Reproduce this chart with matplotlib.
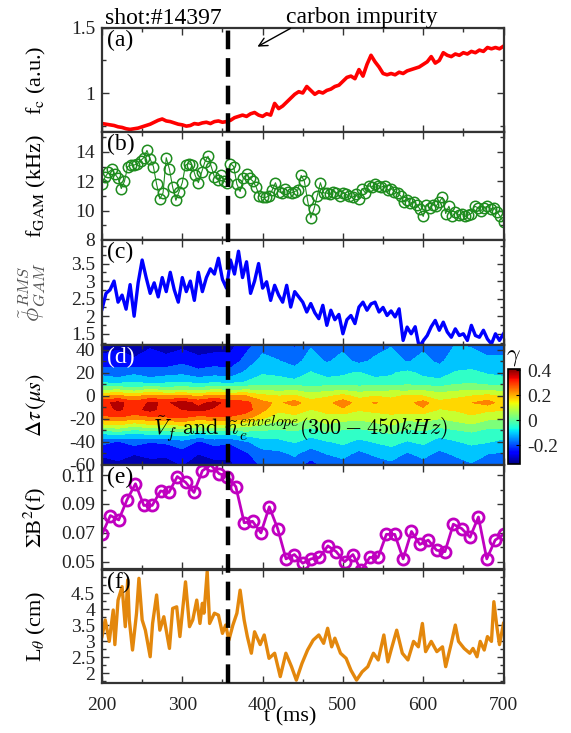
import numpy as np
import matplotlib
matplotlib.use('Agg')
import matplotlib.pyplot as plt
import matplotlib as mpl
from matplotlib.ticker import MultipleLocator, AutoMinorLocator, StrMethodFormatter
from matplotlib.lines import Line2D

plt.rcParams['font.family'] = ['Liberation Serif', 'DejaVu Serif']
plt.rcParams['mathtext.fontset'] = 'stix'
plt.rcParams['axes.unicode_minus'] = False

# ---- data ----
t_event = 357.5   # dashed line

# (a) carbon impurity f_c, 5 ms steps from 200 to 700
fc = [0.765, 0.76, 0.755, 0.75, 0.74, 0.735, 0.725, 0.72, 0.725, 0.73,
      0.74, 0.75, 0.76, 0.775, 0.79, 0.80, 0.785, 0.78, 0.77, 0.76,
      0.755, 0.745, 0.75, 0.765, 0.76, 0.77, 0.775, 0.765, 0.78, 0.785,
      0.775, 0.78, 0.79, 0.81, 0.82, 0.83, 0.82, 0.84, 0.85, 0.83,
      0.82, 0.84, 0.83, 0.92, 0.88, 0.90, 0.93, 0.96, 0.99, 1.01,
      1.00, 1.05, 1.02, 0.99, 1.01, 1.00, 1.02, 1.03, 1.05, 1.06,
      1.09, 1.12, 1.13, 1.11, 1.18, 1.13, 1.22, 1.29, 1.24, 1.20,
      1.15, 1.14, 1.15, 1.14, 1.16, 1.15, 1.17, 1.18, 1.19, 1.20,
      1.22, 1.24, 1.28, 1.23, 1.25, 1.31, 1.29, 1.28, 1.30, 1.29,
      1.31, 1.30, 1.32, 1.31, 1.33, 1.32, 1.35, 1.34, 1.35, 1.34,
      1.36]

# (b) f_GAM (kHz), 4 ms steps
fgam = [11.8, 12.3, 12.6, 12.8, 12.5, 12.2, 11.5, 12.0, 13.0, 13.1,
        13.1, 13.2, 13.4, 13.6, 14.1, 13.5, 13.0, 11.8, 10.8, 11.2,
        13.6, 12.8, 11.6, 10.7, 11.3, 11.9, 13.1, 13.2, 13.1, 12.4,
        11.9, 12.6, 13.3, 13.7, 13.0, 12.3, 12.1, 12.4, 12.0, 11.9,
        13.2, 13.0, 11.8, 11.3, 12.2, 12.5, 12.2, 12.0, 11.6, 11.0,
        10.9, 10.9, 11.0, 11.4, 11.9, 11.3, 11.2, 11.5, 11.3, 11.2,
        11.3, 11.4, 12.4, 12.0, 10.7, 9.5, 10.1, 11.0, 11.9, 11.2,
        11.2, 11.1, 11.3, 11.2, 11.0, 11.2, 11.1, 11.0, 10.9, 11.1,
        10.8, 11.5, 11.2, 11.7, 11.6, 11.8, 11.7, 11.6, 11.7, 11.4,
        11.5, 11.3, 11.2, 11.0, 10.6, 10.7, 10.5, 10.6, 10.4, 10.1,
        9.6, 10.4, 10.2, 10.4, 10.3, 10.6, 10.9, 9.8, 10.3, 9.6,
        9.9, 9.7, 9.8, 9.6, 9.7, 9.8, 10.3, 10.2, 10.0, 10.2,
        10.3, 10.1, 10.2, 9.9, 9.6, 9.2]

# (c) phi_GAM RMS, 5 ms steps
phi = [2.2, 2.65, 2.75, 3.0, 2.4, 2.6, 2.2, 2.9, 2.0, 2.95,
       3.6, 3.1, 2.65, 2.95, 2.55, 3.1, 2.7, 3.25, 2.75, 2.4,
       3.1, 2.7, 3.0, 2.45, 3.25, 2.7, 3.1, 3.35, 3.2, 3.65,
       3.05, 2.8, 3.6, 3.2, 3.85, 3.1, 3.55, 2.65, 3.0, 3.5,
       2.8, 2.98, 2.45, 2.88, 2.6, 2.4, 2.88, 2.26, 2.7, 2.55,
       2.4, 2.12, 2.36, 2.1, 1.93, 2.31, 1.74, 2.17, 1.9, 2.05,
       1.5, 1.9, 2.02, 1.79, 2.26, 2.4, 2.17, 2.35, 2.4, 2.12,
       2.25, 2.02, 2.15, 1.98, 2.21, 1.31, 1.69, 1.5, 1.7, 1.12,
       1.3, 1.45, 1.7, 1.88, 1.6, 1.83, 1.55, 1.4, 1.64, 1.45,
       1.5, 1.31, 1.74, 1.45, 1.4, 1.6, 1.35, 1.21, 1.5, 1.31,
       1.5]

# (d) correlation gamma(t, dtau): columns t = 200..700 step 20, rows dtau
t_map = np.arange(200, 701, 20)
tau_map = [-60, -50, -40, -32, -25, -18, -12, -6, 0, 6, 12, 20, 30, 44]
gamma = np.array([
    [-0.31, -0.30, -0.29, -0.31, -0.30, -0.28, -0.31, -0.30, -0.29, -0.25, -0.20,
     -0.22, -0.18, -0.24, -0.19, -0.17, -0.21, -0.18, -0.16, -0.20, -0.17, -0.22, -0.18, -0.15, -0.19, -0.20],
    [-0.27, -0.25, -0.28, -0.26, -0.27, -0.24, -0.28, -0.26, -0.27, -0.22, -0.17,
     -0.16, -0.13, -0.18, -0.14, -0.12, -0.16, -0.13, -0.11, -0.15, -0.12, -0.16, -0.13, -0.11, -0.14, -0.15],
    [-0.19, -0.22, -0.18, -0.21, -0.20, -0.17, -0.22, -0.19, -0.20, -0.15, -0.10,
     -0.09, -0.07, -0.10, -0.08, -0.06, -0.09, -0.07, -0.05, -0.08, -0.06, -0.10, -0.08, -0.06, -0.07, -0.09],
    [-0.06, -0.03, -0.07, -0.04, -0.05, -0.02, -0.06, -0.04, -0.05, -0.03, -0.03,
     -0.04, -0.02, -0.05, -0.01, -0.03, -0.04, -0.02, 0.00, -0.03, -0.02, -0.05, -0.03, -0.01, -0.04, -0.04],
    [0.12, 0.14, 0.10, 0.13, 0.12, 0.15, 0.11, 0.13, 0.12, 0.10, 0.06,
     0.04, 0.05, 0.02, 0.06, 0.04, 0.03, 0.05, 0.07, 0.03, 0.05, 0.02, 0.04, 0.06, 0.03, 0.03],
    [0.26, 0.28, 0.25, 0.27, 0.28, 0.29, 0.26, 0.27, 0.27, 0.24, 0.16,
     0.10, 0.12, 0.08, 0.11, 0.10, 0.09, 0.11, 0.12, 0.10, 0.09, 0.08, 0.10, 0.12, 0.09, 0.08],
    [0.31, 0.35, 0.32, 0.36, 0.31, 0.34, 0.36, 0.33, 0.32, 0.30, 0.22,
     0.15, 0.17, 0.13, 0.16, 0.19, 0.14, 0.15, 0.16, 0.17, 0.19, 0.13, 0.14, 0.18, 0.15, 0.14],
    [0.32, 0.36, 0.30, 0.35, 0.33, 0.37, 0.32, 0.36, 0.31, 0.29, 0.22,
     0.19, 0.23, 0.16, 0.18, 0.24, 0.17, 0.21, 0.16, 0.18, 0.23, 0.15, 0.17, 0.20, 0.23, 0.17],
    [0.19, 0.21, 0.18, 0.22, 0.20, 0.21, 0.19, 0.22, 0.20, 0.20, 0.15,
     0.13, 0.14, 0.10, 0.12, 0.15, 0.11, 0.13, 0.12, 0.14, 0.13, 0.10, 0.11, 0.13, 0.15, 0.12],
    [0.03, 0.04, 0.01, 0.05, 0.02, 0.03, 0.02, 0.04, 0.03, 0.04, 0.04,
     0.03, 0.04, 0.01, 0.03, 0.04, 0.02, 0.03, 0.04, 0.03, 0.04, 0.02, 0.04, 0.05, 0.04, 0.03],
    [-0.09, -0.10, -0.08, -0.11, -0.09, -0.08, -0.10, -0.09, -0.10, -0.07, -0.05,
     -0.05, -0.06, -0.03, -0.05, -0.06, -0.04, -0.05, -0.06, -0.03, -0.05, -0.06, -0.03, -0.02, -0.04, -0.05],
    [-0.17, -0.19, -0.16, -0.18, -0.17, -0.16, -0.19, -0.17, -0.18, -0.13, -0.08,
     -0.09, -0.11, -0.07, -0.10, -0.08, -0.07, -0.10, -0.08, -0.06, -0.09, -0.10, -0.07, -0.06, -0.08, -0.09],
    [-0.26, -0.24, -0.27, -0.25, -0.26, -0.23, -0.26, -0.25, -0.26, -0.18, -0.12,
     -0.14, -0.17, -0.11, -0.15, -0.12, -0.16, -0.13, -0.10, -0.15, -0.12, -0.16, -0.10, -0.11, -0.13, -0.12],
    [-0.31, -0.30, -0.32, -0.29, -0.31, -0.30, -0.32, -0.31, -0.30, -0.24, -0.17,
     -0.18, -0.22, -0.15, -0.20, -0.16, -0.21, -0.17, -0.15, -0.20, -0.16, -0.21, -0.14, -0.15, -0.17, -0.18],
])
g_min, g_max = -0.35, 0.41

# (e) sum B^2(f), evenly spaced
sb2 = [0.069, 0.082, 0.079, 0.093, 0.104, 0.089, 0.089, 0.099, 0.098, 0.109,
       0.105, 0.098, 0.113, 0.117, 0.111, 0.109, 0.102, 0.077, 0.078, 0.070,
       0.088, 0.073, 0.052, 0.055, 0.049, 0.052, 0.053, 0.061, 0.057, 0.050,
       0.055, 0.044, 0.053, 0.053, 0.069, 0.069, 0.052, 0.071, 0.062, 0.065,
       0.058, 0.057, 0.076, 0.073, 0.067, 0.081, 0.052, 0.065, 0.069]

# (f) L_theta (cm)
t_f = [200, 204, 209, 214, 216, 220, 225, 229, 232, 234, 238, 243, 246, 250, 254, 260,
       263, 268, 272, 277, 284, 288, 293, 297, 304, 309, 313, 318, 322, 325, 327, 331,
       334, 340, 345, 350, 354, 358, 363, 368, 372, 377, 381, 386, 390, 397, 402, 408,
       415, 422, 429, 436, 442, 449, 456, 463, 470, 476, 481, 486, 490, 497, 504, 510,
       517, 524, 531, 538, 544, 551, 556, 560, 567, 574, 581, 588, 594, 599, 603, 610,
       617, 624, 628, 635, 640, 644, 651, 658, 662, 667, 671, 676, 680, 685, 688, 692,
       695, 700]
lth = [3.15, 3.67, 3.0, 3.98, 2.9, 4.29, 4.71, 3.46, 4.92, 3.67, 2.73, 3.88, 4.97, 3.67, 3.35, 2.52,
       3.56, 4.45, 3.35, 3.77, 2.78, 4.03, 4.08, 3.15, 4.86, 3.46, 3.67, 4.29, 3.56, 4.19, 3.88, 5.18,
       3.56, 3.88, 3.82, 3.25, 3.51, 3.04, 3.51, 3.88, 4.6, 3.67, 3.15, 2.63, 3.3, 2.9, 3.2, 2.47,
       2.63, 1.9, 2.63, 2.21, 1.79, 2.31, 2.73, 3.04, 3.2, 2.94, 3.41, 2.83, 3.1, 2.63, 2.47, 2.1,
       1.79, 2.05, 2.21, 2.63, 2.42, 3.2, 2.36, 2.73, 3.35, 2.63, 2.42, 3.0, 2.83, 3.56, 2.68, 3.0,
       2.68, 2.83, 2.21, 2.94, 3.51, 3.0, 2.78, 2.63, 2.78, 2.52, 3.0, 2.73, 3.15, 3.0, 4.24, 3.41,
       2.9, 3.56]

# ---- figure ----
W, H = 571, 733
fig = plt.figure(figsize=(W / 100, H / 100), dpi=100)


def box(top, bottom):
    return [102 / W, 1 - bottom / H, 401.5 / W, (bottom - top) / H]


def style(ax, ylim, yticks, bottom=False):
    ax.set_xlim(200, 700)
    ax.set_ylim(*ylim)
    ax.set_yticks(yticks)
    ax.yaxis.set_major_formatter(StrMethodFormatter('{x:g}'))
    ax.xaxis.set_major_locator(MultipleLocator(100))
    ax.xaxis.set_minor_locator(MultipleLocator(50))
    ax.yaxis.set_minor_locator(AutoMinorLocator(2))
    ax.tick_params(which='both', direction='in', top=True, right=True,
                   labelsize=14, labelcolor='#222', color='#333', width=1.0)
    ax.tick_params(which='major', length=5)
    ax.tick_params(which='minor', length=3)
    ax.tick_params(axis='y', pad=5)
    ax.tick_params(axis='x', pad=10, labelbottom=bottom)
    for s in ax.spines.values():
        s.set_linewidth(1.6)
        s.set_color('#333')
    ax.yaxis.set_label_coords(-0.135, 0.5)


ax_a = fig.add_axes(box(28, 132))
ax_b = fig.add_axes(box(132, 240))
ax_c = fig.add_axes(box(240, 345))
ax_d = fig.add_axes(box(345, 465))
ax_e = fig.add_axes(box(465, 569))
ax_f = fig.add_axes(box(570, 683))

# (a)
t_a = np.linspace(200, 700, len(fc))
ax_a.plot(t_a, fc, color='#ff0000', lw=2.6)
style(ax_a, (0.70, 1.5), [1, 1.5])
ax_a.set_ylabel(r'f$_\mathrm{c}$ (a.u.)', fontsize=16)

# (b)
t_b = np.linspace(200, 700, len(fgam))
ax_b.plot(t_b, fgam, '-o', color='#1e8c1e', mfc='none', ms=7.5, mew=1.1, lw=0.8)
style(ax_b, (8, 15.35), [8, 10, 12, 14])
ax_b.set_ylabel(r'f$_\mathrm{GAM}$ (kHz)', fontsize=16)

# (c)
t_c = np.linspace(200, 700, len(phi))
ax_c.plot(t_c, phi, color='#0000ff', lw=2.4)
style(ax_c, (1.18, 4.17), [1.5, 2, 2.5, 3, 3.5])
ax_c.set_ylabel(r'$\tilde{\phi}_{GAM}^{RMS}$', fontsize=17, color='#555',
                math_fontfamily='cm')

# (d)
levels = np.linspace(g_min, g_max, 12)
ax_d.contourf(t_map, tau_map, gamma, levels=levels, cmap='jet', extend='both')
style(ax_d, (-60, 44), [-60, -40, -20, 0, 20, 40])
ax_d.set_ylabel(r'$\Delta\tau\,(\mu s)$', fontsize=16)
ax_d.text(0.127, 0.30,
          r'$\tilde{V}_f\ \mathrm{and}\ \tilde{n}_e^{envelope}(300-450kHz)$',
          transform=ax_d.transAxes, fontsize=16, ha='left', va='center',
          math_fontfamily='cm', zorder=5)

cax = fig.add_axes([508 / W, 1 - 464 / H, 12 / W, 95 / H])
sm = mpl.cm.ScalarMappable(norm=mpl.colors.Normalize(g_min, g_max), cmap='jet')
cb = fig.colorbar(sm, cax=cax, ticks=[-0.2, 0, 0.2, 0.4])
cb.ax.yaxis.set_major_formatter(StrMethodFormatter('{x:g}'))
cb.ax.tick_params(labelsize=14, labelcolor='#222', direction='in', length=3, pad=5)
cb.outline.set_linewidth(1.2)
fig.text(513 / W, 1 - 357 / H, r'$\gamma$', fontsize=17, ha='center', va='center',
         math_fontfamily='cm')

# (e)
t_e = np.linspace(200, 700, len(sb2))
ax_e.plot(t_e, sb2, '-o', color='#c000c0', mfc='none', ms=8, mew=2, lw=2)
style(ax_e, (0.045, 0.117), [0.05, 0.07, 0.09, 0.11])
ax_e.set_ylabel(r'$\Sigma$B$^2$(f)', fontsize=16)

# (f)
ax_f.plot(t_f, lth, color='#e3870c', lw=2.4)
style(ax_f, (1.7, 5.23), [2, 2.5, 3, 3.5, 4, 4.5], bottom=True)
ax_f.set_ylabel(r'L$_\theta$ (cm)', fontsize=16)
fig.text(290 / W, 1 - 717 / H, 't (ms)', fontsize=16, ha='center', va='center')

# panel labels
for ax, lab in zip([ax_a, ax_b, ax_c, ax_d, ax_e, ax_f],
                   ['(a)', '(b)', '(c)', '(d)', '(e)', '(f)']):
    ax.text(0.012, 0.985, lab, transform=ax.transAxes, fontsize=17, va='top',
            ha='left', color='white' if lab == '(d)' else 'black', zorder=6)

# dashed event line through all panels
x_fig = fig.transFigure.inverted().transform(ax_a.transData.transform((t_event, 1)))[0]
fig.add_artist(Line2D([x_fig, x_fig], [1 - 683 / H, 1 - 28 / H], transform=fig.transFigure,
                      color='k', lw=3.2, ls=(0, (4.2, 2)), zorder=10))

# top annotations
fig.text(105 / W, 1 - 24 / H, 'shot:#14397', fontsize=17, va='baseline')
fig.text(286 / W, 1 - 23 / H, 'carbon impurity', fontsize=17, va='baseline')
ax_a.annotate('', xy=(255 / W, 1 - 48 / H), xycoords='figure fraction',
              xytext=(293 / W, 1 - 27 / H), textcoords='figure fraction',
              arrowprops=dict(arrowstyle='->,head_length=0.6,head_width=0.3',
                              lw=1, color='k'), annotation_clip=False)

fig.savefig('out.png', dpi=100)
